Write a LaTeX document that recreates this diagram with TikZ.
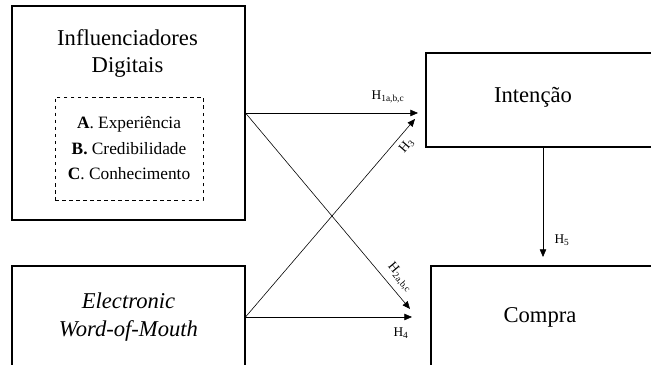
\documentclass[tikz,border=0pt]{standalone}
\usepackage{fontspec}
\setmainfont{Liberation Serif}
\usetikzlibrary{arrows.meta}
\tikzset{
  caixa/.style={draw, line width=0.9pt, rectangle, inner sep=0pt},
  tracejada/.style={draw, dashed, line width=0.7pt, rectangle, inner sep=0pt},
  seta/.style={line width=0.5pt, -{Triangle[length=6.5pt,width=5.5pt]}},
  titulo/.style={align=center, font=\fontsize{19.3}{23}\selectfont},
  hip/.style={inner sep=0pt, font=\fontsize{11.4}{13}\selectfont}
}
\begin{document}
\begin{tikzpicture}
\clip (0,0) rectangle (19.53,10.95);
% caixas das variaveis
\node[caixa, minimum width=6.99cm, minimum height=6.42cm] (infl) at (3.855,7.56) {};
\node[titulo] (infltit) at (3.825,9.345) {Influenciadores\\Digitais};
\node[tracejada, minimum width=4.44cm, minimum height=3.09cm, align=center,
      font=\fontsize{14.8}{21.8}\selectfont] (dim) at (3.87,6.495)
  {\textbf{A}. Experiência\\\textbf{B.} Credibilidade\\\textbf{C}. Conhecimento};
\node[caixa, titulo, minimum width=6.99cm, minimum height=3.06cm,
      font=\fontsize{19.3}{24}\selectfont\itshape] (ewom) at (3.855,1.44)
  {Electronic\\Word-of-Mouth};
\node[caixa, minimum width=7.62cm, minimum height=2.82cm] (int) at (16.59,7.95) {};
\node[titulo] (inttit) at (15.99,8.04) {Intenção};
\node[caixa, minimum width=7.47cm, minimum height=4.02cm] (comp) at (16.665,0.96) {};
\node[titulo] (comptit) at (16.2,1.44) {Compra};
% pontas livres das setas
\coordinate (h1fim) at (12.54,7.56);
\coordinate (h2fim) at (12.3,1.68);
\coordinate (h3fim) at (12.45,7.38);
\coordinate (h4fim) at (12.36,1.44);
\coordinate (h5ini) at (16.29,6.54);
\coordinate (h5fim) at (16.29,3.24);
% hipoteses
\draw[seta] (infl.east) -- (h1fim);
\draw[seta] (infl.east) -- (h2fim);
\draw[seta] (ewom.east) -- (h3fim);
\draw[seta] (ewom.east) -- (h4fim);
\draw[seta] (h5ini) -- (h5fim);
\node[hip] (h1) at (11.64,8.04) {H\textsubscript{1a,b,c}};
\node[hip, rotate=-50] (h2) at (12.0,2.62) {H\textsubscript{2a,b,c}};
\node[hip, rotate=49] (h3) at (12.2,6.57) {H\textsubscript{3}};
\node[hip] (h4) at (12.03,0.96) {H\textsubscript{4}};
\node[hip] (h5) at (16.86,3.75) {H\textsubscript{5}};
\end{tikzpicture}
\end{document}
